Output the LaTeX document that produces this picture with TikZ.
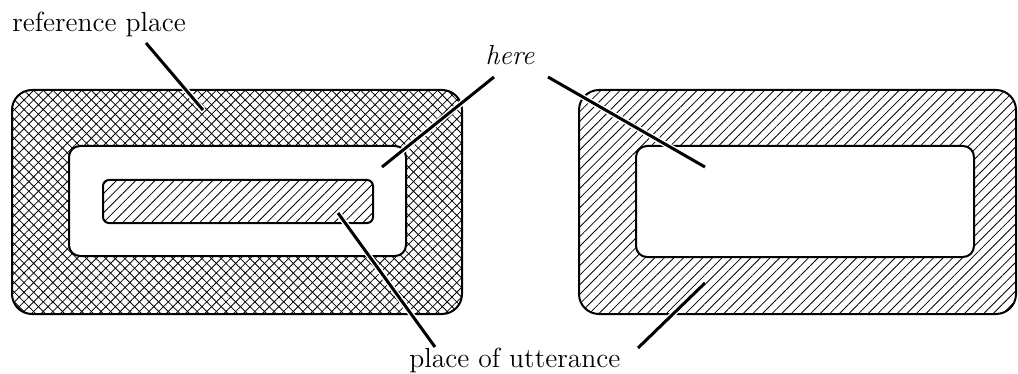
\documentclass[tikz,border=0pt]{standalone}
\usepackage{tikz}
\usetikzlibrary{patterns.meta}

\tikzset{
  region/.style={draw, line width=1pt},
  hatch/.style={pattern={Lines[angle=45, distance=3.4pt, line width=0.4pt]}},
  cross/.style={hatch, preaction={pattern={Lines[angle=-45, distance=3.4pt, line width=0.4pt]}}},
  leader/.style={line width=1.5pt, preaction={draw, white, line width=2.9pt}},
  tag/.style={font=\fontsize{13.8}{16}\selectfont, inner sep=0pt},
}

\begin{document}
\begin{tikzpicture}[x=0.5pt, y=-0.5pt]
  \useasboundingbox (0,0) rectangle (1018,374);
  % left: reference place, with here and the place of utterance inside
  \draw[region, cross, rounded corners=10pt] (12,90) rectangle (462,314);
  \draw[region, fill=white, rounded corners=5.5pt] (69,146) rectangle (406,256);
  \draw[region, hatch, rounded corners=3pt] (103,180) rectangle (373,223);
  % right: place of utterance round here
  \draw[region, hatch, rounded corners=10pt] (579,90) rectangle (1016,314);
  \draw[region, fill=white, rounded corners=5.5pt] (636,146) rectangle (974,257);

  \node[tag, anchor=base west] (refplace) at (12,32) {reference place};
  \node[tag, anchor=base, font=\fontsize{13.8}{16}\selectfont\itshape] (here) at (510,65) {here};
  \node[tag, anchor=base west] (utter) at (409,367) {place of utterance};

  % leader ends
  \coordinate (refplace-a) at (146,43);
  \coordinate (refplace-b) at (203,110);
  \coordinate (here-la) at (494,77);
  \coordinate (here-lb) at (382,167);
  \coordinate (here-ra) at (548,77);
  \coordinate (here-rb) at (705,167);
  \coordinate (utter-la) at (435,347);
  \coordinate (utter-lb) at (338,213);
  \coordinate (utter-ra) at (638,348);
  \coordinate (utter-rb) at (705,283);

  \draw[leader] (refplace-a) -- (refplace-b);
  \draw[leader] (here-la) -- (here-lb);
  \draw[leader] (here-ra) -- (here-rb);
  \draw[leader] (utter-la) -- (utter-lb);
  \draw[leader] (utter-ra) -- (utter-rb);
\end{tikzpicture}
\end{document}
